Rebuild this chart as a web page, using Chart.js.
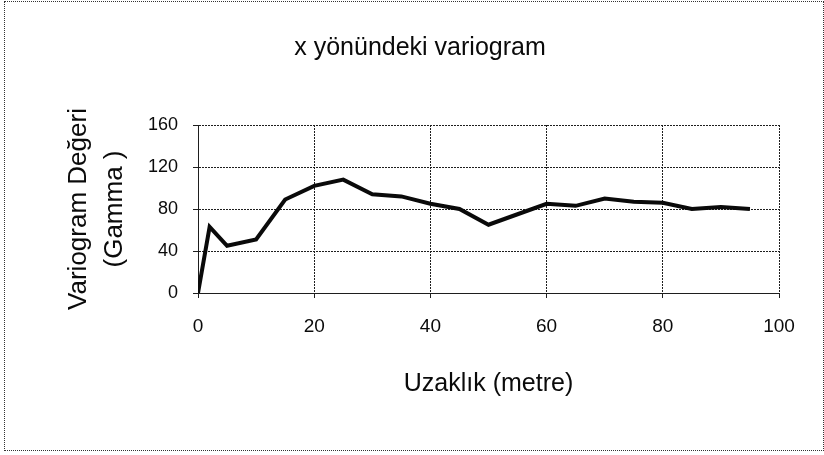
<!DOCTYPE html>
<html>
<head>
<meta charset="utf-8">
<script src="https://cdn.jsdelivr.net/npm/chart.js@4/dist/chart.umd.min.js"></script>
<style>
  html, body { margin: 0; padding: 0; background: #fff; }
  #wrap { position: relative; width: 824px; height: 455px; }
  #frame {
    position: absolute; left: 4px; top: 1px; width: 818px; height: 448px;
    border: 1px dotted #333; pointer-events: none;
  }
</style>
</head>
<body>
<div id="wrap">
  <canvas id="variogram" width="824" height="455"></canvas>
  <div id="frame"></div>
</div>
<script>
const FONT = "'Liberation Sans', Arial, sans-serif";
const INK = "#0a0a0a";
const GRID = "#1e1e1e";

// lag distance (metre) and gamma values
const distances = [0, 2, 5, 10, 15, 20, 25, 30, 35, 40, 45, 50, 55, 60, 65, 70, 75, 80, 85, 90, 95];
const gammaValues = [0, 63, 45, 51, 89, 102, 108, 94, 92, 85, 80, 65, 75, 85, 83, 90, 87, 86, 80, 82, 80];

const xTicks = [0, 20, 40, 60, 80, 100];
const yTicks = [0, 40, 80, 120, 160];

const points = distances.map((d, i) => ({ x: d, y: gammaValues[i] }));

new Chart(document.getElementById("variogram"), {
  type: "line",
  data: {
    datasets: [
      {
        label: "Gamma",
        data: points,
        borderColor: INK,
        borderWidth: 4,
        pointRadius: 0,
        tension: 0,
        fill: false,
      },
    ],
  },
  options: {
    responsive: false,
    animation: false,
    layout: { padding: { left: 61, right: 45, top: 0, bottom: 56 } },
    plugins: {
      legend: { display: false },
      tooltip: { enabled: false },
      title: {
        display: true,
        text: "x yönündeki variogram",
        color: INK,
        font: { family: FONT, size: 25, weight: "normal", lineHeight: 1.2 },
        padding: { top: 33, bottom: 62 },
      },
    },
    scales: {
      x: {
        type: "linear",
        min: 0,
        max: 100,
        afterBuildTicks: (s) => { s.ticks = xTicks.map((v) => ({ value: v })); },
        afterFit: (s) => { s.height = 106; },
        ticks: { color: INK, font: { family: FONT, size: 19 }, padding: 17 },
        grid: { color: GRID, lineWidth: 1, tickLength: 5, tickColor: GRID },
        border: { color: GRID, dash: [2, 1] },
        title: {
          display: true,
          text: "Uzaklık (metre)",
          color: INK,
          font: { family: FONT, size: 25, lineHeight: 1.2 },
          padding: 0,
        },
      },
      y: {
        min: 0,
        max: 160,
        afterBuildTicks: (s) => { s.ticks = yTicks.map((v) => ({ value: v })); },
        afterFit: (s) => { s.width = 137; },
        ticks: { color: INK, font: { family: FONT, size: 18 }, padding: 15 },
        grid: { color: GRID, lineWidth: 1, tickLength: 5, tickColor: GRID },
        border: { color: GRID, dash: [2, 1] },
        title: {
          display: true,
          text: ["Variogram Değeri", "(Gamma )"],
          color: INK,
          font: { family: FONT, size: 26, lineHeight: 1.38 },
          padding: 0,
        },
      },
    },
  },
});
</script>
</body>
</html>
